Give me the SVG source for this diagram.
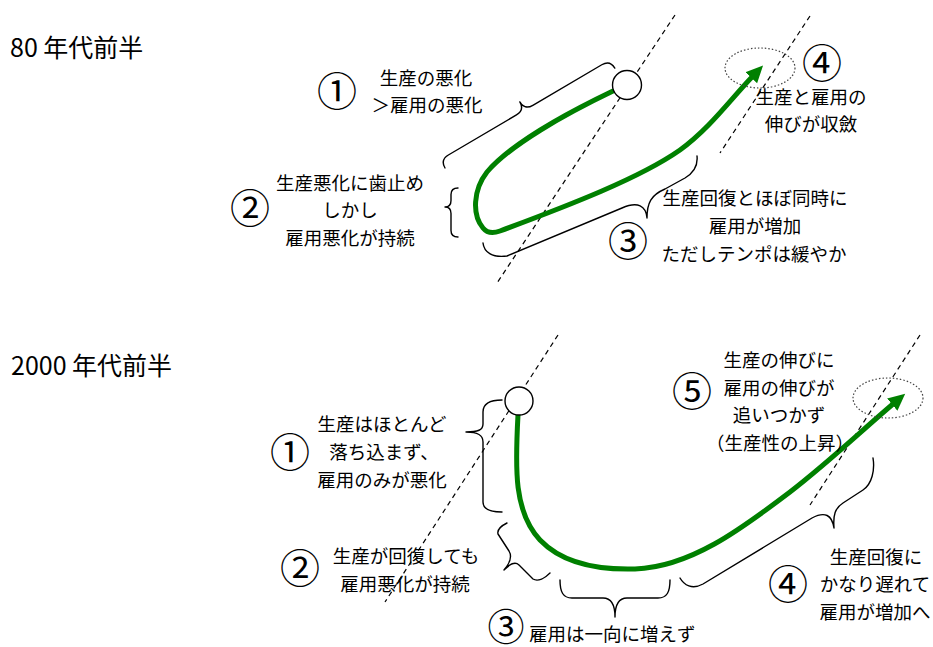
<svg xmlns="http://www.w3.org/2000/svg" width="933" height="647" viewBox="0 0 933 647">
<defs>
<style>
text{font-family:"Noto Sans CJK JP","Noto Sans",sans-serif;fill:#000}
.t{font-size:18.5px;text-anchor:middle}
.ts{font-size:18.5px}
.title{font-size:25px}
.num{font-size:40px;text-anchor:middle}
.dash{fill:none;stroke:#000;stroke-width:1.2;stroke-dasharray:5,4}
.brace{fill:none;stroke:#000;stroke-width:1.4;stroke-linejoin:round;stroke-linecap:round}
.curve{fill:none;stroke:#008000;stroke-width:5;stroke-linecap:round}
.dot{fill:none;stroke:#444;stroke-width:1.2;stroke-dasharray:1.5,2}
.start{fill:#fff;stroke:#000;stroke-width:1.4}
</style>
<marker id="ah" markerUnits="userSpaceOnUse" markerWidth="22" markerHeight="20" refX="1" refY="8" orient="auto">
<path d="M0,0 L17,8 L0,16 z" fill="#008000"/>
</marker>
</defs>
<rect width="933" height="647" fill="#fff"/>

<g id="title-80s"><text class="title" x="10" y="57" xml:space="preserve">80 年代前半</text></g>
<g id="title-2000s"><text class="title" x="11" y="375" xml:space="preserve">2000 年代前半</text></g>

<g id="connectors">
<g id="guides">
<line class="dash" x1="675" y1="15" x2="497" y2="283"/>
<line class="dash" x1="810" y1="16" x2="720" y2="153"/>
<line class="dash" x1="558" y1="335" x2="385" y2="602"/>
<line class="dash" x1="920" y1="335" x2="810" y2="505"/>
</g>
<g id="braces">
<path class="brace" transform="translate(445,168) rotate(-30.47)" d="M0,0 Q0,-9.5 9.5,-9.5 L88.5,-9.5 Q98,-9.5 98,-19 Q98,-9.5 107.5,-9.5 L187.5,-9.5 Q197,-9.5 197,0"/>
<path class="brace" d="M458,188 Q451,188 451,194.5 L451,200.5 Q451,207 445,207 Q451,207 451,213.5 L451,230.5 Q451,237 458,237"/>
<path class="brace" d="M483,243 C484,252 492,258 507,256 L622,208 C638,201 646,206 647,218 C647,203 651,195 665,189 L685,178 C695,172 698,165 697,156"/>
<path class="brace" d="M502,400 C490,400 483,403 483,412 L483,424 C483,430 478,432 466,432 C478,432 483,435 483,442 L483,502 C483,509 490,512 502,512"/>
<path class="brace" d="M507,523 C501,526 497,530 498,534 L509,551 C512,556 510,563 504,570 C510,564 515,561 519,565 L533,579 C538,582 545,578 550,573"/>
<path class="brace" d="M560,580 C560,592 563,598 572,598 L603,598 C611,598 615,604 615,617 C615,604 619,598 627,598 L658,598 C667,598 670,592 670,580"/>
<path class="brace" d="M680,578 C684,585 692,590 703,584 L812,518 C825,511 832,515 834,528 C833,515 835,508 843,503 L863,490 C872,484 875,470 873,458"/>
</g>
<g id="paths">
<path class="curve" marker-end="url(#ah)" d="M613,91 C565,114 510,145 487,172 C473,190 472,215 483,228 C487,233 492,234 500,231 C570,205 640,178 680,150 C710,128 730,100 752,77"/>
<path class="curve" marker-end="url(#ah)" d="M518,415 C515,470 514,512 540,540 C563,564 600,570 635,569 C690,567 740,530 790,492 C830,461 860,432 893,404"/>
</g>
</g>

<g id="start-80s"><circle class="start" cx="627" cy="85" r="14.5"/></g>
<g id="start-2000s"><circle class="start" cx="519" cy="401" r="14"/></g>
<g id="end-80s"><ellipse class="dot" cx="760" cy="68" rx="35" ry="20"/></g>
<g id="end-2000s"><ellipse class="dot" cx="888" cy="398" rx="35" ry="20"/></g>

<g id="n80-1">
<text class="num" x="337" y="106">①</text>
<text class="t" x="426" y="85">生産の悪化</text>
<text class="t" x="427" y="112">＞雇用の悪化</text>
</g>
<g id="n80-2">
<text class="num" x="250" y="223">②</text>
<text class="t" x="350" y="190">生産悪化に歯止め</text>
<text class="t" x="350" y="217">しかし</text>
<text class="t" x="350" y="245">雇用悪化が持続</text>
</g>
<g id="n80-3">
<text class="num" x="628" y="256">③</text>
<text class="t" x="755" y="205">生産回復とほぼ同時に</text>
<text class="t" x="755" y="233">雇用が増加</text>
<text class="t" x="754" y="261">ただしテンポは緩やか</text>
</g>
<g id="n80-4">
<text class="num" x="822" y="78">④</text>
<text class="t" x="811" y="104">生産と雇用の</text>
<text class="t" x="811" y="131">伸びが収斂</text>
</g>

<g id="n00-1">
<text class="num" x="290" y="467">①</text>
<text class="t" x="382" y="431">生産はほとんど</text>
<text class="t" x="384" y="459">落ち込まず、</text>
<text class="t" x="382" y="487">雇用のみが悪化</text>
</g>
<g id="n00-2">
<text class="num" x="300" y="583">②</text>
<text class="t" x="406" y="563">生産が回復しても</text>
<text class="t" x="405" y="591">雇用悪化が持続</text>
</g>
<g id="n00-3">
<text class="num" x="506" y="641" style="font-size:37px">③</text>
<text class="ts" x="529" y="641">雇用は一向に増えず</text>
</g>
<g id="n00-4">
<text class="num" x="788" y="599">④</text>
<text class="t" x="876" y="564">生産回復に</text>
<text class="t" x="875" y="591">かなり遅れて</text>
<text class="t" x="875" y="619">雇用が増加へ</text>
</g>
<g id="n00-5">
<text class="num" x="692" y="406">⑤</text>
<text class="t" x="779" y="367">生産の伸びに</text>
<text class="t" x="779" y="395">雇用の伸びが</text>
<text class="t" x="779" y="422">追いつかず</text>
<text class="t" x="780" y="450">（生産性の上昇）</text>
</g>
</svg>
